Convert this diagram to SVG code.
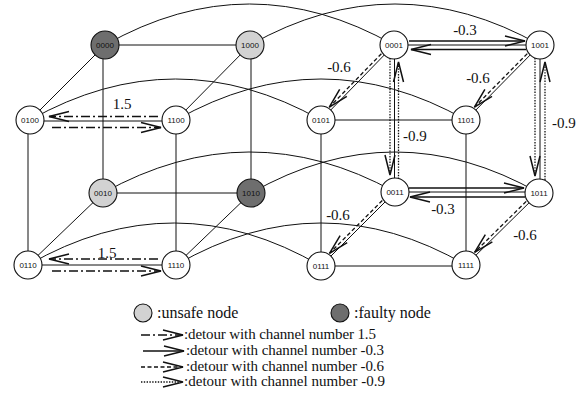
<svg xmlns="http://www.w3.org/2000/svg" width="576" height="409" viewBox="0 0 576 409">
<style>
.e{stroke:#111;stroke-width:1;fill:none}
.arc{stroke:#111;stroke-width:1;fill:none}
.a{stroke:#111;stroke-width:1.3;fill:none;marker-end:url(#ah)}
.d15{stroke-dasharray:9,3,2,3}
.d06{stroke-dasharray:4,2.5}
.d09{stroke-dasharray:1.4,1.4}
.n{stroke:#111;stroke-width:1.1;fill:#fff}
.u{fill:#d2d2d2}
.f{fill:#6e6e6e}
.nl{font-family:"Liberation Sans",Arial,sans-serif;font-size:8px;text-anchor:middle;fill:#111}
.lb{font-family:"Liberation Serif","Times New Roman",serif;font-size:15px;fill:#111}
.lg{font-family:"Liberation Serif","Times New Roman",serif;font-size:16px;fill:#111}
.m{text-anchor:middle}
</style>
<defs>
<marker id="ah" markerUnits="userSpaceOnUse" markerWidth="30" markerHeight="16" viewBox="-24 -8 30 16" refX="0" refY="0" orient="auto" overflow="visible">
<path d="M-20,-5 L0,0 L-20,5" fill="none" stroke="#111" stroke-width="1.5"/>
</marker>
</defs>

<g id="connectors">
<path class="arc" d="M105,45 Q249.5,-37 394,45"/>
<path class="arc" d="M250,45 Q395,-37 540,45"/>
<path class="arc" d="M30,120 Q175.5,38 321,120"/>
<path class="arc" d="M176,120 Q321,38 466,120"/>
<path class="arc" d="M103,193 Q249,111.5 395,192"/>
<path class="arc" d="M251,193 Q395,111 539,193"/>
<path class="arc" d="M28,265 Q174.5,180.5 321,266"/>
<path class="arc" d="M176,265 Q321,181 466,265"/>
<line class="e" x1="105" y1="45" x2="250" y2="45"/>
<line class="e" x1="103" y1="45" x2="103" y2="193"/>
<line class="e" x1="251" y1="45" x2="251" y2="193"/>
<line class="e" x1="105" y1="45" x2="30" y2="120"/>
<line class="e" x1="250" y1="45" x2="176" y2="120"/>
<line class="e" x1="30" y1="121" x2="176" y2="121"/>
<line class="e" x1="28" y1="120" x2="28" y2="265"/>
<line class="e" x1="176" y1="120" x2="176" y2="265"/>
<line class="e" x1="103" y1="193" x2="251" y2="193"/>
<line class="e" x1="103" y1="193" x2="28" y2="265"/>
<line class="e" x1="251" y1="193" x2="176" y2="265"/>
<line class="e" x1="28" y1="265" x2="176" y2="265"/>
<line class="e" x1="394" y1="45" x2="540" y2="45"/>
<line class="e" x1="394.5" y1="45" x2="394.5" y2="192"/>
<line class="e" x1="540" y1="45" x2="540" y2="193"/>
<line class="e" x1="394" y1="45" x2="321" y2="120"/>
<line class="e" x1="540" y1="45" x2="466" y2="120"/>
<line class="e" x1="321" y1="120" x2="466" y2="120"/>
<line class="e" x1="321" y1="120" x2="321" y2="266"/>
<line class="e" x1="466" y1="120" x2="466" y2="265"/>
<line class="e" x1="395" y1="192" x2="539" y2="192"/>
<line class="e" x1="395" y1="192" x2="321" y2="266"/>
<line class="e" x1="539" y1="193" x2="466" y2="265"/>
<line class="e" x1="321" y1="266" x2="466" y2="266"/>
<line class="a d15" x1="158" y1="116.5" x2="49" y2="116.5"/>
<line class="a d15" x1="52" y1="127.5" x2="161" y2="127.5"/>
<line class="a d15" x1="158" y1="259" x2="49" y2="259"/>
<line class="a d15" x1="52" y1="271" x2="161" y2="271"/>
<line class="a" x1="409" y1="41" x2="525" y2="41"/>
<line class="a" x1="526" y1="49.5" x2="411" y2="49.5"/>
<line class="a" x1="409" y1="188" x2="524" y2="188"/>
<line class="a" x1="525" y1="197" x2="410" y2="197"/>
<line class="a d06" x1="381.4" y1="53.7" x2="329.3" y2="107.2"/>
<line class="a d06" x1="527.3" y1="53.6" x2="474.4" y2="107.2"/>
<line class="a d06" x1="382.3" y1="200.5" x2="329.5" y2="253.3"/>
<line class="a d06" x1="526.2" y1="201.4" x2="474.6" y2="252.3"/>
<line class="a d09" x1="390" y1="58" x2="390" y2="175"/>
<line class="a d09" x1="398.5" y1="179" x2="398.5" y2="62"/>
<line class="a d09" x1="535" y1="58" x2="535" y2="176"/>
<line class="a d09" x1="545" y1="180" x2="545" y2="62"/>
</g>

<g id="labels">
<text class="lb m" x="122" y="109">1.5</text>
<text class="lb m" x="107" y="257.5">1.5</text>
<text class="lb m" x="465" y="35">-0.3</text>
<text class="lb m" x="339" y="71.5">-0.6</text>
<text class="lb m" x="478" y="83">-0.6</text>
<text class="lb" x="403" y="141">-0.9</text>
<text class="lb" x="552" y="128">-0.9</text>
<text class="lb m" x="443" y="214">-0.3</text>
<text class="lb m" x="338" y="220">-0.6</text>
<text class="lb m" x="525" y="240">-0.6</text>
</g>

<g id="n0000"><circle class="n f" cx="105" cy="45" r="14"/><text class="nl" x="105" y="48">0000</text></g>
<g id="n1000"><circle class="n u" cx="250" cy="45" r="14"/><text class="nl" x="250" y="48">1000</text></g>
<g id="n0100"><circle class="n" cx="30" cy="120" r="14"/><text class="nl" x="30" y="123">0100</text></g>
<g id="n1100"><circle class="n" cx="176" cy="120" r="14"/><text class="nl" x="176" y="123">1100</text></g>
<g id="n0010"><circle class="n u" cx="103" cy="193" r="14"/><text class="nl" x="103" y="196">0010</text></g>
<g id="n1010"><circle class="n f" cx="251" cy="193" r="14"/><text class="nl" x="251" y="196">1010</text></g>
<g id="n0110"><circle class="n" cx="28" cy="265" r="14"/><text class="nl" x="28" y="268">0110</text></g>
<g id="n1110"><circle class="n" cx="176" cy="265" r="14"/><text class="nl" x="176" y="268">1110</text></g>
<g id="n0001"><circle class="n" cx="394" cy="45" r="14"/><text class="nl" x="394" y="48">0001</text></g>
<g id="n1001"><circle class="n" cx="540" cy="45" r="14"/><text class="nl" x="540" y="48">1001</text></g>
<g id="n0101"><circle class="n" cx="321" cy="120" r="14"/><text class="nl" x="321" y="123">0101</text></g>
<g id="n1101"><circle class="n" cx="466" cy="120" r="14"/><text class="nl" x="466" y="123">1101</text></g>
<g id="n0011"><circle class="n" cx="395" cy="192" r="14"/><text class="nl" x="395" y="195">0011</text></g>
<g id="n1011"><circle class="n" cx="539" cy="193" r="14"/><text class="nl" x="539" y="196">1011</text></g>
<g id="n0111"><circle class="n" cx="321" cy="266" r="14"/><text class="nl" x="321" y="269">0111</text></g>
<g id="n1111"><circle class="n" cx="466" cy="265" r="14"/><text class="nl" x="466" y="268">1111</text></g>

<g id="legend">
<circle class="n u" cx="143" cy="313" r="9"/>
<text class="lg" x="157" y="318">:unsafe node</text>
<circle class="n f" cx="340" cy="313" r="9"/>
<text class="lg" x="354" y="318">:faulty node</text>
<line class="a d15" x1="141" y1="335" x2="183" y2="335"/>
<text class="lb" x="184" y="339" textLength="192" lengthAdjust="spacing">:detour with channel number 1.5</text>
<line class="a" x1="143" y1="351" x2="184" y2="351"/>
<text class="lb" x="186" y="355" textLength="198" lengthAdjust="spacing">:detour with channel number -0.3</text>
<line class="a d06" x1="141" y1="367" x2="183" y2="367"/>
<text class="lb" x="186" y="371" textLength="198" lengthAdjust="spacing">:detour with channel number -0.6</text>
<line class="a d09" x1="141" y1="382" x2="183" y2="382"/>
<text class="lb" x="184" y="386" textLength="201" lengthAdjust="spacing">:detour with channel number -0.9</text>
</g>
</svg>
